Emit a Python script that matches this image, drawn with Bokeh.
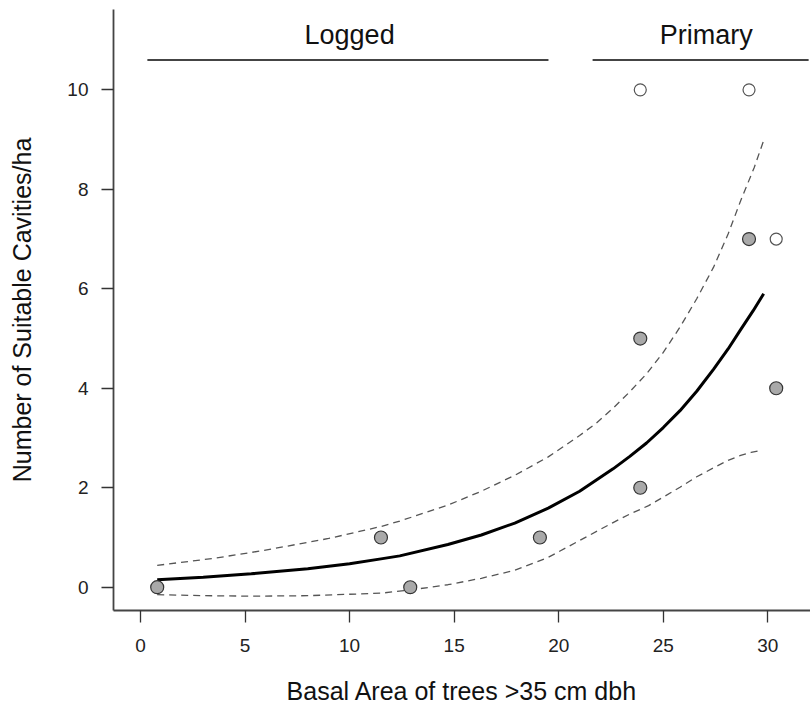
from bokeh.plotting import figure
from bokeh.models import Range1d, FixedTicker, ColumnDataSource
from bokeh.core.properties import value
from bokeh.embed import file_html
from bokeh.resources import INLINE

# ---- data ----
filled_x = [0.8, 11.5, 12.9, 19.1, 23.9, 23.9, 29.1, 30.4]
filled_y = [0, 1, 0, 1, 5, 2, 7, 4]
open_x = [23.9, 29.1, 30.4]
open_y = [10, 10, 7]

fit_x = [0.8, 3.0, 5.3, 8.0, 10.0, 11.5, 12.4, 14.7, 16.3, 17.9, 19.5, 21.0, 22.6, 23.4, 24.2,
         25.0, 25.8, 26.6, 27.4, 28.1, 28.7, 29.3, 29.8]
fit_y = [0.15, 0.20, 0.27, 0.37, 0.47, 0.57, 0.63, 0.86, 1.05, 1.29, 1.59, 1.93, 2.38, 2.63, 2.90,
         3.21, 3.55, 3.94, 4.38, 4.79, 5.18, 5.56, 5.90]

upper_x = [0.8, 3.5, 5.9, 9.0, 11.5, 12.4, 14.7, 16.3, 17.9, 19.5, 21.0, 21.8, 22.6, 23.4, 24.2,
           25.0, 25.8, 26.6, 27.4, 28.1, 28.7, 29.35, 29.8]
upper_y = [0.44, 0.58, 0.74, 0.98, 1.22, 1.33, 1.65, 1.93, 2.25, 2.62, 3.05, 3.30, 3.60, 3.93, 4.29,
           4.72, 5.23, 5.80, 6.43, 7.10, 7.77, 8.44, 8.98]

lower_x = [0.8, 3.0, 5.3, 8.0, 11.5, 13.0, 14.7, 16.3, 17.9, 19.5, 21.0, 22.6, 23.4, 24.3, 25.8,
           26.6, 27.4, 28.1, 28.7, 29.2, 29.7]
lower_y = [-0.15, -0.17, -0.18, -0.17, -0.12, -0.05, 0.05, 0.18, 0.34, 0.60, 0.94, 1.30, 1.47, 1.64,
           2.01, 2.22, 2.40, 2.55, 2.65, 2.71, 2.75]

group_names = ["Logged", "Primary"]
group_start = [0.33, 21.62]
group_end = [19.51, 31.95]
group_mid = [10.0, 27.06]
group_line_y = 10.60
group_text_y = 11.10

x_ticks = [0, 5, 10, 15, 20, 25, 30]
y_ticks = [0, 2, 4, 6, 8, 10]

FONT = "Liberation Sans"

p = figure(width=810, height=713, output_backend="svg", toolbar_location=None,
           x_range=Range1d(-1.29, 32.04), y_range=Range1d(-0.468, 11.615),
           min_border_left=113, min_border_right=0, min_border_top=9, min_border_bottom=103)
p.outline_line_color = None
p.background_fill_color = "white"
p.border_fill_color = "white"
p.xgrid.visible = False
p.ygrid.visible = False

for ax, ticks in ((p.xaxis[0], x_ticks), (p.yaxis[0], y_ticks)):
    ax.ticker = FixedTicker(ticks=ticks)
    ax.minor_tick_line_color = None
    ax.major_tick_in = 0
    ax.major_tick_out = 12
    ax.major_tick_line_color = "#333333"
    ax.major_tick_line_width = 1.3
    ax.axis_line_color = "#444444"
    ax.axis_line_width = 1.8
    ax.major_label_text_font = FONT
    ax.major_label_text_font_size = "19px"
    ax.major_label_text_color = "#222222"
    ax.axis_label_text_font = FONT
    ax.axis_label_text_font_size = "25px"
    ax.axis_label_text_font_style = "normal"
    ax.axis_label_text_color = "#111111"

p.xaxis.axis_label = "Basal Area of trees >35 cm dbh"
p.yaxis.axis_label = "Number of Suitable Cavities/ha"
p.xaxis.major_label_standoff = 16
p.xaxis.axis_label_standoff = 22
p.yaxis.major_label_standoff = 13
p.yaxis.axis_label_standoff = 28
p.yaxis.major_label_orientation = "horizontal"

# confidence band (dashed) and fitted curve
p.line(upper_x, upper_y, line_color="#555555", line_width=1.3, line_dash="7 5")
p.line(lower_x, lower_y, line_color="#555555", line_width=1.3, line_dash="7 5")
p.line(fit_x, fit_y, line_color="black", line_width=3)

# points
p.scatter(filled_x, filled_y, size=13, fill_color="#a9a9a9", line_color="#333333", line_width=1.2)
p.scatter(open_x, open_y, size=12, fill_color="white", line_color="#555555", line_width=1.2)

# group bars and labels
src = ColumnDataSource(dict(x0=group_start, x1=group_end, y=[group_line_y] * 2,
                            xm=group_mid, yt=[group_text_y] * 2, name=group_names))
p.segment(x0="x0", y0="y", x1="x1", y1="y", source=src, line_color="#444444", line_width=2)
p.text(x="xm", y="yt", text="name", source=src, text_align="center", text_baseline="alphabetic",
       text_font=value(FONT), text_font_size="27px", text_color="#111111")

open("out.html", "w").write(file_html(p, INLINE))
